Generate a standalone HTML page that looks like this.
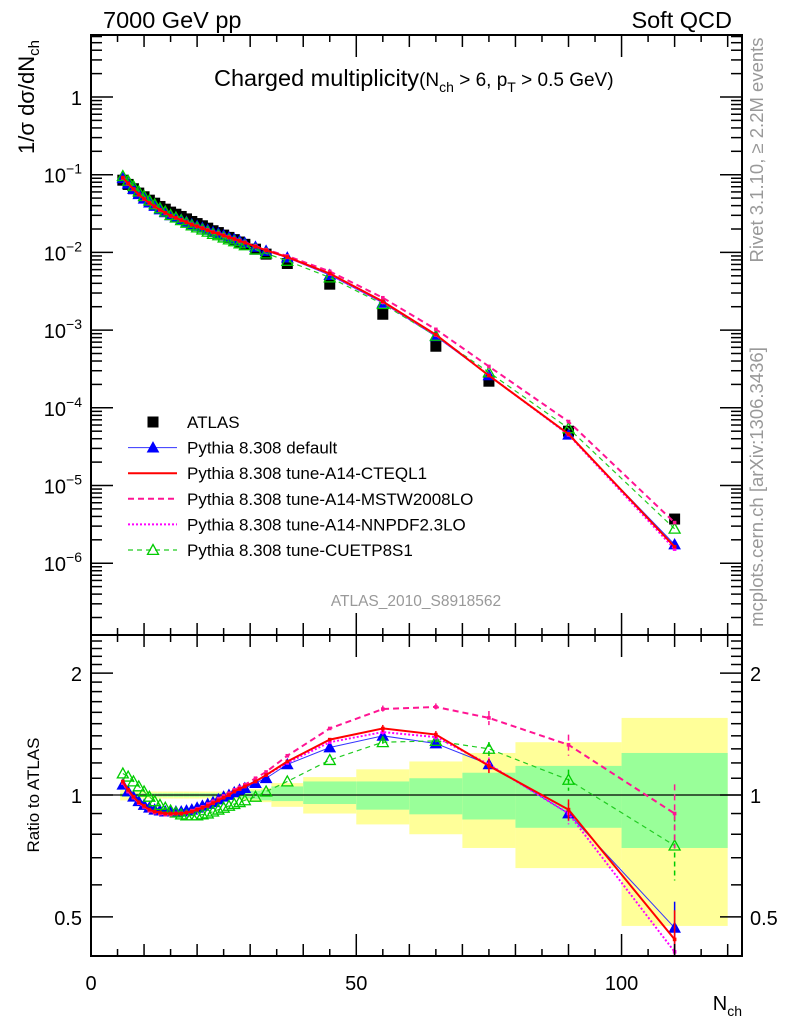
<!DOCTYPE html>
<html><head><meta charset="utf-8">
<style>
html,body{margin:0;padding:0;background:#fff;}
svg{display:block;font-family:"Liberation Sans",sans-serif;}
</style></head>
<body>
<svg id="chart" width="786" height="1024" viewBox="0 0 786 1024" xmlns="http://www.w3.org/2000/svg">
<defs><clipPath id="rclip"><rect x="91" y="635" width="651" height="321"/></clipPath></defs>
<g id="bands"></g>
<g id="grid"></g>
<g id="series"></g>
<g id="axes"></g>
<g id="legend"></g>
<text x="103" y="28" font-size="23.5">7000 GeV pp</text>
<text x="732" y="28" font-size="23.5" text-anchor="end">Soft QCD</text>
<text x="214" y="86" font-size="23.5">Charged multiplicity<tspan font-size="19">(N</tspan><tspan font-size="14" dy="6">ch</tspan><tspan font-size="19" dy="-6"> &gt; 6, p</tspan><tspan font-size="14" dy="6">T</tspan><tspan font-size="19" dy="-6"> &gt; 0.5 GeV)</tspan></text>
<text x="416" y="606" font-size="15.5" fill="#999" text-anchor="middle">ATLAS_2010_S8918562</text>
<text transform="translate(763,150) rotate(-90)" font-size="18.5" fill="#999" text-anchor="middle">Rivet 3.1.10, ≥ 2.2M events</text>
<text transform="translate(763,487) rotate(-90)" font-size="18.5" fill="#999" text-anchor="middle">mcplots.cern.ch [arXiv:1306.3436]</text>
<text transform="translate(34,97) rotate(-90)" font-size="22" text-anchor="middle">1/σ dσ/dN<tspan font-size="15" dy="5">ch</tspan></text>
<text transform="translate(39,795) rotate(-90)" font-size="17" text-anchor="middle">Ratio to ATLAS</text>
<text x="742" y="1010" font-size="20" text-anchor="end">N<tspan font-size="14" dy="6">ch</tspan></text>
</svg>
<script>
const xs=[6,7,8,9,10,11,12,13,14,15,16,17,18,19,20,21,22,23,24,25,26,27,28,29,31,33,37,45,55,65,75,90,110];
const atlas=[0.085,0.075,0.066,0.058,0.052,0.047,0.043,0.039,0.036,0.033,0.031,0.029,0.027,0.025,0.0235,0.022,0.0205,0.019,0.018,0.0167,0.0156,0.0146,0.0136,0.0127,0.011,0.0095,0.0072,0.0039,0.0016,0.00062,0.00022,0.00005,0.0000037];
const rDefault=[1.06,1.02,0.99,0.965,0.945,0.93,0.92,0.915,0.91,0.91,0.91,0.91,0.915,0.92,0.93,0.94,0.95,0.96,0.975,0.99,1.0,1.015,1.03,1.04,1.07,1.10,1.19,1.31,1.40,1.34,1.19,0.90,0.47];
const rCTEQ=[1.08,1.03,0.99,0.96,0.94,0.92,0.91,0.905,0.9,0.9,0.9,0.9,0.905,0.91,0.92,0.93,0.94,0.955,0.97,0.985,1.0,1.02,1.035,1.05,1.08,1.12,1.21,1.37,1.46,1.41,1.18,0.92,0.44];
const rMSTW=[1.07,1.02,0.985,0.955,0.935,0.915,0.905,0.9,0.895,0.895,0.9,0.9,0.905,0.915,0.925,0.935,0.95,0.965,0.98,0.995,1.01,1.03,1.045,1.06,1.10,1.14,1.25,1.46,1.63,1.65,1.55,1.33,0.90];
const rNNPDF=[1.07,1.02,0.985,0.955,0.935,0.915,0.905,0.9,0.895,0.895,0.9,0.9,0.905,0.91,0.92,0.93,0.94,0.955,0.97,0.985,1.0,1.02,1.035,1.05,1.08,1.12,1.20,1.35,1.43,1.39,1.19,0.90,0.41];
const rCUETP=[1.13,1.11,1.08,1.05,1.02,0.99,0.965,0.945,0.93,0.915,0.905,0.895,0.89,0.89,0.89,0.895,0.9,0.91,0.92,0.93,0.94,0.95,0.96,0.97,0.99,1.02,1.08,1.22,1.35,1.36,1.30,1.09,0.75];
const errDefault=[0,0,0,0,0,0,0,0,0,0,0,0,0,0,0,0,0,0,0,0,0,0,0,0,0,0,0,0,0.01,0.01,0.01,0.015,0.08];
const errMC=[0,0,0,0,0,0,0,0,0,0,0,0,0,0,0,0,0,0,0,0,0,0,0,0,0,0,0,0,0.01,0.01,0.02,0.03,0.09];
const bandEdges=[5.5,6.5,7.5,8.5,9.5,10.5,11.5,12.5,13.5,14.5,15.5,16.5,17.5,18.5,19.5,20.5,21.5,22.5,23.5,24.5,25.5,26.5,27.5,28.5,30,32,34,40,50,60,70,80,100,120];
const yelHi=[1.03,1.03,1.025,1.02,1.02,1.02,1.02,1.02,1.02,1.02,1.02,1.02,1.02,1.02,1.02,1.02,1.02,1.02,1.02,1.02,1.02,1.02,1.025,1.03,1.035,1.04,1.07,1.107,1.157,1.21,1.27,1.35,1.55];
const yelLo=[0.97,0.97,0.975,0.98,0.98,0.98,0.98,0.98,0.98,0.98,0.98,0.98,0.98,0.98,0.98,0.98,0.98,0.98,0.98,0.98,0.98,0.98,0.975,0.97,0.965,0.96,0.935,0.90,0.846,0.80,0.74,0.66,0.475];
const grnHi=[1.01,1.01,1.01,1.01,1.01,1.01,1.01,1.01,1.01,1.01,1.01,1.01,1.01,1.01,1.01,1.01,1.01,1.01,1.01,1.01,1.01,1.012,1.015,1.02,1.025,1.03,1.05,1.08,1.08,1.10,1.135,1.18,1.27];
const grnLo=[0.99,0.99,0.99,0.99,0.99,0.99,0.99,0.99,0.99,0.99,0.99,0.99,0.99,0.99,0.99,0.99,0.99,0.99,0.99,0.99,0.99,0.988,0.985,0.98,0.975,0.97,0.966,0.95,0.92,0.896,0.87,0.83,0.74];
const xTickLabels=[0,50,100];
const yTopLabels=[0,-1,-2,-3,-4,-5,-6];
const rTickLabels=[0.5,1,2];

const NS="http://www.w3.org/2000/svg";
const L=91,R=742,T=35,MID=635,B=956;
const XMAX=122.7;
function X(v){return L+(R-L)*v/XMAX;}
function YT(v){return 97-77.7*Math.log10(v);}
function YR(v){return 795-405*Math.log10(v);}
function mk(tag,attrs,parent){const e=document.createElementNS(NS,tag);for(const k in attrs)e.setAttribute(k,attrs[k]);parent.appendChild(e);return e;}
const bands=document.getElementById('bands'),axes=document.getElementById('axes'),series=document.getElementById('series'),legend=document.getElementById('legend');

for(let i=0;i<yelHi.length;i++){
  const x0=X(bandEdges[i]),x1=X(bandEdges[i+1]);
  const y=mk('rect',{x:x0,y:YR(yelHi[i]),width:x1-x0,height:YR(yelLo[i])-YR(yelHi[i]),fill:'#ffff99'},bands);
  
  
  const g=mk('rect',{x:x0,y:YR(grnHi[i]),width:x1-x0,height:YR(grnLo[i])-YR(grnHi[i]),fill:'#99ff99'},bands);
  
  
}
const one=mk('line',{x1:L,x2:R,y1:YR(1),y2:YR(1),stroke:'#000','stroke-width':1.3},bands);



[[T,MID],[MID,B]].forEach(([a,b],k)=>{
  const f=mk('rect',{x:L,y:a,width:R-L,height:b-a,fill:'none',stroke:'#000','stroke-width':2},axes);
  
  
});
for(let v=0;v<=XMAX;v+=5){
  const len=v%50===0?22:(v%10===0?12:7);
  const x=X(v);
  [[T,1],[MID,-1],[MID,1],[B,-1]].forEach(([y0,d])=>mk('line',{x1:x,x2:x,y1:y0,y2:y0+d*len,stroke:'#000','stroke-width':1.5},axes));
}
xTickLabels.forEach(v=>{
  const t=mk('text',{x:X(v),y:990,'font-size':20,'text-anchor':'middle'},axes);
  t.textContent=v;
  
  
});
for(let d=-7;d<=0;d++){
  for(let m=1;m<=9;m++){
    const v=m*Math.pow(10,d);const y=YT(v);
    if(y<T||y>MID)continue;
    const len=m===1?22:11;
    mk('line',{x1:L,x2:L+len,y1:y,y2:y,stroke:'#000','stroke-width':1.5},axes);
    mk('line',{x1:R,x2:R-len,y1:y,y2:y,stroke:'#000','stroke-width':1.5},axes);
  }
}
yTopLabels.forEach(e=>{
  const t=mk('text',{x:82,y:YT(Math.pow(10,e))+8,'font-size':20,'text-anchor':'end'},axes);
  if(e===0){t.textContent='1';}
  else{t.textContent='10';const s=mk('tspan',{'font-size':14,dy:-9},t);s.textContent='−'+(-e);}
  
  
});
for(let i=4;i<=25;i++){
  const v=i/10;const y=YR(v);if(y<MID||y>B)continue;
  const len=(i===5||i===10||i===20)?22:11;
  mk('line',{x1:L,x2:L+len,y1:y,y2:y,stroke:'#000','stroke-width':1.5},axes);
  mk('line',{x1:R,x2:R-len,y1:y,y2:y,stroke:'#000','stroke-width':1.5},axes);
}
rTickLabels.forEach(v=>{
  const t=mk('text',{x:82,y:YR(v)+8,'font-size':20,'text-anchor':'end'},axes);t.textContent=v;
  
  
  const t2=mk('text',{x:750,y:YR(v)+8,'font-size':20},axes);t2.textContent=v;
  
  
});

const defs=[
 {name:'default',r:rDefault,err:errDefault,color:'#0000ff',line:'#3333ff',w:1,dash:'',marker:'tri'},
 {name:'cuetp8s1',r:rCUETP,err:errMC,color:'#00cc00',line:'#22cc22',w:1.2,dash:'5,4',marker:'otri'},
 {name:'a14-nnpdf',r:rNNPDF,err:errMC,color:'#ff00ff',line:'#ff00ff',w:2,dash:'2,2',marker:'sq'},
 {name:'a14-mstw',r:rMSTW,err:errMC,color:'#ff1493',line:'#ff1493',w:2,dash:'6,4',marker:'sq'},
 {name:'a14-cteql1',r:rCTEQ,err:errMC,color:'#ff0000',line:'#ff0000',w:2,dash:'',marker:'sq'}
];
function marker(type,x,y,c,parent,sz){
  sz=sz||5.5;
  let e;
  if(type==='tri'||type==='otri'){
    e=mk('polygon',{points:`${x},${y-sz} ${x-sz},${y+sz*0.8} ${x+sz},${y+sz*0.8}`,fill:type==='tri'?c:'none',stroke:c,'stroke-width':type==='tri'?1:1.3},parent);
  }else if(type==='bsq'){
    e=mk('rect',{x:x-5.5,y:y-5.5,width:11,height:11,fill:c},parent);
  }else{
    e=mk('rect',{x:x-1.8,y:y-1.8,width:3.6,height:3.6,fill:c},parent);
  }
  return e;
}
const ag=mk('g',{},series);


xs.forEach((x,i)=>{
  const m=marker('bsq',X(x),YT(atlas[i]),'#000',ag);
  
  
});
defs.forEach(d=>{
  const gt=mk('g',{},series);
  
  
  const gr=mk('g',{'clip-path':'url(#rclip)'},series);
  
  
  const ptsT=xs.map((x,i)=>X(x)+','+YT(atlas[i]*d.r[i])).join(' ');
  const ptsR=xs.map((x,i)=>X(x)+','+YR(d.r[i])).join(' ');
  mk('polyline',{points:ptsT,fill:'none',stroke:d.line,'stroke-width':d.w,'stroke-dasharray':d.dash},gt);
  mk('polyline',{points:ptsR,fill:'none',stroke:d.line,'stroke-width':d.w,'stroke-dasharray':d.dash},gr);
  xs.forEach((x,i)=>{
    const m1=marker(d.marker,X(x),YT(atlas[i]*d.r[i]),d.color,gt);
    
    
    if(d.err[i]>0){
      const e=mk('line',{x1:X(x),x2:X(x),y1:YR(d.r[i]+d.err[i]*d.r[i]*2),y2:YR(d.r[i]-d.err[i]*d.r[i]*2),stroke:d.color,'stroke-width':1.5,'stroke-dasharray':d.dash},gr);
      
      
    }
    const m2=marker(d.marker,X(x),YR(d.r[i]),d.color,gr);
    
    
  });
});

const entries=[
 {label:'ATLAS',marker:'bsq',color:'#000',line:null},
 {label:'Pythia 8.308 default',marker:'tri',color:'#0000ff',line:'#3333ff',w:1,dash:''},
 {label:'Pythia 8.308 tune-A14-CTEQL1',marker:null,line:'#ff0000',w:2,dash:''},
 {label:'Pythia 8.308 tune-A14-MSTW2008LO',marker:null,line:'#ff1493',w:2,dash:'6,4'},
 {label:'Pythia 8.308 tune-A14-NNPDF2.3LO',marker:null,line:'#ff00ff',w:2,dash:'2,2'},
 {label:'Pythia 8.308 tune-CUETP8S1',marker:'otri',color:'#00cc00',line:'#22cc22',w:1.2,dash:'5,4'}
];
entries.forEach((e,i)=>{
  const y=422+25.6*i;
  const g=mk('g',{},legend);
  
  
  if(e.line)mk('line',{x1:128,x2:177,y1:y,y2:y,stroke:e.line,'stroke-width':e.w,'stroke-dasharray':e.dash},g);
  if(e.marker)marker(e.marker,153,y,e.color,g);
  const t=mk('text',{x:187,y:y+6,'font-size':17},g);t.textContent=e.label;
});
</script>
</body></html>
